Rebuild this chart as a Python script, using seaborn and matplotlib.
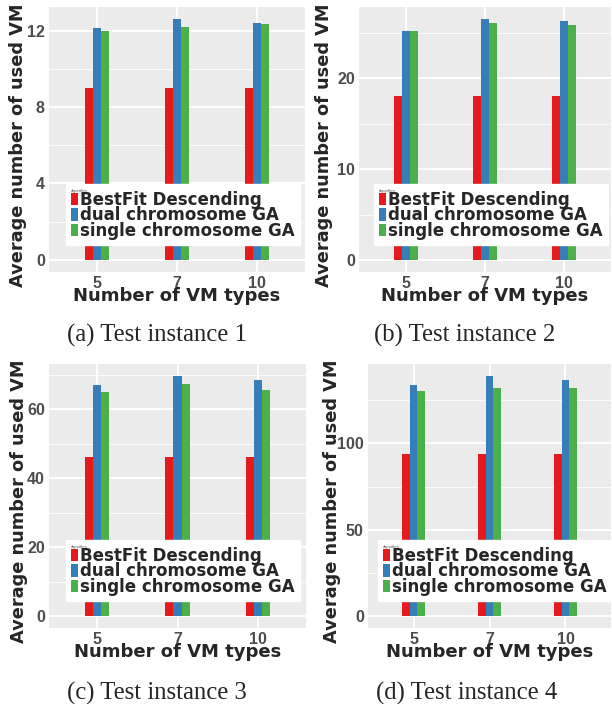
#!/usr/bin/env python3
"""
plot.py - Average number of used VMs per algorithm, four test instances.
"""

import numpy as np
import pandas as pd
import matplotlib
matplotlib.use('Agg')
import matplotlib.pyplot as plt
import seaborn as sns

# Data
vm_types = ['5', '7', '10']
algorithms = ['BestFit Descending', 'dual chromosome GA', 'single chromosome GA']

bfd_1 = [9.0, 9.0, 9.0]
dual_1 = [12.15, 12.6, 12.4]
single_1 = [11.95, 12.2, 12.35]

bfd_2 = [18.0, 18.0, 18.0]
dual_2 = [25.2, 26.5, 26.3]
single_2 = [25.2, 26.1, 25.8]

bfd_3 = [46.0, 46.0, 46.0]
dual_3 = [67.0, 69.6, 68.5]
single_3 = [65.0, 67.3, 65.6]

bfd_4 = [94.0, 94.0, 94.0]
dual_4 = [133.9, 139.1, 136.8]
single_4 = [130.4, 132.2, 132.2]

captions = ['(a) Test instance 1', '(b) Test instance 2',
            '(c) Test instance 3', '(d) Test instance 4']
major_ticks = [[0, 4, 8, 12], [0, 10, 20], [0, 20, 40, 60], [0, 50, 100]]
minor_ticks = [[2, 6, 10], [5, 15, 25], [10, 30, 50, 70], [25, 75, 125]]

palette = ['#E41A1C', '#377EB8', '#4DAF4A']

W, H = 612, 704
# panel boxes in pixels: left, right, top, bottom
boxes = [(49, 305, 7, 272), (359, 611, 7, 272),
         (49, 306, 364, 628), (368, 611, 364, 628)]
ylabel_x = [18, 324, 19, 332]
caption_x = [157, 465, 157, 467]
legend_left = [66, 374, 66, 378]

BOLD_WIDE = 'DejaVu Sans'


def make_frame(bfd, dual, single):
    rows = []
    for name, vals in zip(algorithms, [bfd, dual, single]):
        for t, v in zip(vm_types, vals):
            rows.append({'types': t, 'algorithm': name, 'value': v})
    return pd.DataFrame(rows)


def draw_panel(fig, i, df):
    l, r, t, b = boxes[i]
    ax = fig.add_axes([l / W, 1 - b / H, (r - l) / W, (b - t) / H])
    sns.barplot(data=df, x='types', y='value', hue='algorithm', order=vm_types,
                hue_order=algorithms, palette=palette, width=0.3, saturation=1,
                errorbar=None, ax=ax, zorder=3, linewidth=0)

    ymax = df['value'].max()
    ax.set_ylim(-0.05 * ymax, 1.05 * ymax)
    ax.set_xlim(-0.6, 2.6)
    ax.set_yticks(major_ticks[i])
    ax.set_yticks(minor_ticks[i], minor=True)
    ax.set_facecolor('#EBEBEB')
    ax.grid(True, which='major', color='white', lw=1.3, zorder=0)
    ax.grid(True, which='minor', axis='y', color='white', lw=0.6, zorder=0)
    ax.set_axisbelow(True)
    for s in ax.spines.values():
        s.set_visible(False)

    ax.tick_params(axis='both', which='major', length=2, color='#333333',
                   labelsize=11.5, labelcolor='#4D4D4D', pad=1)
    ax.tick_params(axis='both', which='minor', length=0)
    for lab in ax.get_xticklabels() + ax.get_yticklabels():
        lab.set_fontweight('bold')

    ax.set_xlabel('Number of VM types', fontsize=13, fontweight='bold',
                  family=BOLD_WIDE, va='center')
    ax.set_ylabel('Average number of used VM', fontsize=12.8, fontweight='bold',
                  family=BOLD_WIDE, va='center')
    ax.xaxis.set_label_coords(0.5, -24 / (b - t))
    ax.yaxis.set_label_coords((ylabel_x[i] - l) / (r - l), 1 - (145 - 7) / 265)

    leg = ax.legend(title='algorithm', loc='lower left',
                    bbox_to_anchor=((legend_left[i] - l) / (r - l), 27 / (b - t)),
                    borderaxespad=0, frameon=True, fancybox=False,
                    handlelength=0.4, handleheight=0.76, handletextpad=0.15,
                    labelspacing=-0.14, borderpad=0.3,
                    prop={'size': 12, 'weight': 'bold', 'family': BOLD_WIDE})
    leg.get_frame().set_facecolor('white')
    leg.get_frame().set_edgecolor('white')
    leg.get_frame().set_alpha(1)
    leg.get_title().set_fontsize(3)
    leg.get_title().set_color('#555555')
    leg._legend_box.align = 'left'
    leg.set_zorder(5)

    cap_off = 63 if i < 2 else 65
    fig.text(caption_x[i] / W, 1 - (b + cap_off) / H, captions[i],
             ha='center', va='center', fontsize=17.8, family='Liberation Serif')
    return ax


def main():
    sns.set_theme(style='darkgrid')
    plt.rcParams['font.family'] = ['Liberation Sans', 'DejaVu Sans']
    fig = plt.figure(figsize=(W / 100, H / 100), dpi=100)
    fig.patch.set_facecolor('white')

    frames = [make_frame(bfd_1, dual_1, single_1),
              make_frame(bfd_2, dual_2, single_2),
              make_frame(bfd_3, dual_3, single_3),
              make_frame(bfd_4, dual_4, single_4)]

    for i in range(4):
        draw_panel(fig, i, frames[i])

    fig.savefig('out.png', dpi=100)
    plt.close(fig)


if __name__ == '__main__':
    main()
